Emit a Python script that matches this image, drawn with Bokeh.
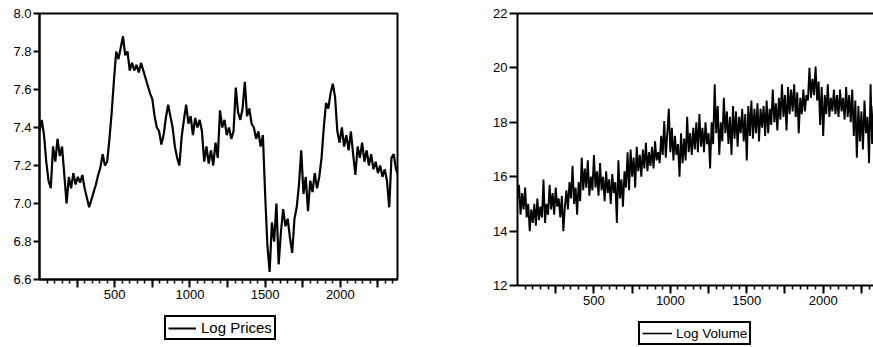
import numpy as np
from bokeh.plotting import figure
from bokeh.models import (Legend, LegendItem, FixedTicker, LinearAxis,
                          PrintfTickFormatter, Range1d)
from bokeh.layouts import row, column
from bokeh.embed import file_html
from bokeh.resources import INLINE

# ---------------- data ----------------
price_step = 15
log_prices = [
    7.38, 7.44, 7.36, 7.22, 7.12, 7.08, 7.30, 7.22, 7.34, 7.25,
    7.30, 7.15, 7.00, 7.14, 7.08, 7.16, 7.10, 7.14, 7.11, 7.15,
    7.08, 7.03, 6.98, 7.02, 7.06, 7.10, 7.15, 7.19, 7.26, 7.20,
    7.22, 7.34, 7.48, 7.65, 7.80, 7.76, 7.82, 7.88, 7.78, 7.80,
    7.70, 7.74, 7.70, 7.73, 7.69, 7.74, 7.70, 7.66, 7.62, 7.58,
    7.55, 7.46, 7.40, 7.38, 7.31, 7.36, 7.45, 7.52, 7.46, 7.40,
    7.30, 7.24, 7.20, 7.35, 7.44, 7.52, 7.42, 7.46, 7.36, 7.45,
    7.40, 7.44, 7.38, 7.22, 7.30, 7.21, 7.28, 7.20, 7.32, 7.24,
    7.49, 7.40, 7.44, 7.36, 7.40, 7.34, 7.38, 7.61, 7.48, 7.44,
    7.50, 7.64, 7.46, 7.50, 7.42, 7.40, 7.34, 7.38, 7.30, 7.36,
    7.05, 6.78, 6.64, 6.90, 6.80, 7.00, 6.68, 6.85, 6.97, 6.88,
    6.92, 6.82, 6.74, 6.92, 6.98, 7.10, 7.28, 7.05, 7.14, 6.96,
    7.12, 7.06, 7.16, 7.08, 7.14, 7.24, 7.40, 7.53, 7.50, 7.58,
    7.63, 7.56, 7.38, 7.32, 7.40, 7.30, 7.36, 7.28, 7.38, 7.26,
    7.15, 7.30, 7.24, 7.32, 7.22, 7.28, 7.20, 7.26, 7.18, 7.22,
    7.16, 7.20, 7.14, 7.18, 7.12, 6.98, 7.24, 7.26, 7.18, 7.15,
]

volume_step = 10
log_volume = [
    15.2, 15.7, 14.6, 15.4, 14.8, 15.6, 14.5, 15.0, 14.0, 14.8,
    14.3, 15.0, 14.2, 15.2, 14.4, 14.9, 14.5, 15.9, 14.3, 15.0,
    14.6, 15.7, 14.8, 15.4, 14.6, 15.6, 14.9, 15.2, 14.5, 15.3,
    14.0, 14.9, 15.5, 14.8, 15.8, 15.2, 16.4, 15.0, 15.6, 14.6,
    15.8, 15.1, 16.7, 15.5, 16.3, 15.6, 16.6, 15.3, 16.0, 15.5,
    16.8, 15.6, 16.2, 15.3, 16.5, 15.5, 16.0, 15.1, 16.2, 15.4,
    15.9, 15.0, 16.1, 15.4, 15.8, 14.3, 16.6, 15.2, 15.9, 14.9,
    16.2, 15.6, 16.9, 15.5, 17.0, 16.0, 16.7, 15.6, 17.1, 16.2,
    16.8, 16.0, 17.0, 16.3, 17.25, 16.2, 16.9, 16.4, 17.1, 16.3,
    17.3, 16.6, 16.9, 16.5, 17.5, 16.8, 18.05, 16.7, 17.6, 18.5,
    16.9, 17.8, 16.6, 17.5, 16.8, 17.2, 16.0, 17.6, 16.5, 17.4,
    16.6, 18.2, 16.9, 17.6, 16.8, 17.8, 17.0, 18.0, 16.9, 18.3,
    17.1, 17.8, 16.9, 18.0, 17.2, 17.6, 16.3, 18.0, 17.2, 19.4,
    17.6, 18.6, 16.8, 18.0, 17.3, 18.9, 17.6, 18.4, 17.2, 18.2,
    16.8, 18.6, 17.4, 18.4, 17.1, 18.2, 17.6, 18.5, 17.3, 18.3,
    16.6, 18.6, 17.5, 18.8, 17.4, 18.5, 17.6, 18.7, 17.3, 18.5,
    17.8, 18.6, 17.5, 18.8, 17.6, 18.5, 17.9, 19.2, 18.0, 18.7,
    17.7, 18.9, 18.1, 19.4, 18.2, 19.0, 17.7, 19.3, 18.3, 19.2,
    18.4, 19.4, 18.2, 19.1, 17.6, 18.9, 18.3, 19.2, 18.4, 19.0,
    18.8, 20.0, 18.9, 19.6, 19.0, 20.05, 18.8, 19.5, 17.9, 19.3,
    17.5, 19.0, 18.3, 19.4, 18.2, 18.9, 18.4, 19.2, 18.3, 19.0,
    18.2, 19.2, 18.4, 18.9, 18.1, 19.3, 18.2, 19.0, 18.0, 19.2,
    17.5, 18.8, 16.7, 18.6, 17.3, 18.4, 17.0, 18.8, 17.6, 18.2,
    16.5, 19.4, 17.2, 18.6, 17.0, 18.8, 17.4, 18.5,
]

price_yticks = [6.6, 6.8, 7.0, 7.2, 7.4, 7.6, 7.8, 8.0]
volume_yticks = [12, 14, 16, 18, 20, 22]
x_major = [250, 500, 750, 1000, 1250, 1500, 1750, 2000, 2250]
x_labelled = [500, 1000, 1500, 2000]
x_minor = list(range(50, 2400, 50))

price_x = np.arange(len(log_prices)) * price_step
volume_x = np.arange(len(log_volume)) * volume_step

FONT = "Liberation Sans"


def style_common(p, yticks, fmt, ytick_out):
    p.xgrid.grid_line_color = None
    p.ygrid.grid_line_color = None
    p.background_fill_color = "white"
    p.border_fill_color = "white"
    xa = p.xaxis[0]
    xa.ticker = FixedTicker(ticks=x_major, minor_ticks=x_minor)
    xa.major_label_overrides = {t: "" for t in x_major if t not in x_labelled}
    xa.axis_line_width = 2
    xa.axis_line_color = "black"
    xa.major_tick_out = 8
    xa.major_tick_in = 0
    xa.minor_tick_out = 4
    xa.minor_tick_in = 0
    xa.major_tick_line_width = 2
    xa.minor_tick_line_width = 1.5
    xa.major_tick_line_color = "black"
    xa.minor_tick_line_color = "black"
    xa.major_label_standoff = 2
    xa.major_label_text_font = FONT
    xa.major_label_text_font_size = "13px"
    xa.major_label_text_color = "black"
    ya = p.yaxis[0]
    ya.ticker = FixedTicker(ticks=yticks)
    ya.formatter = PrintfTickFormatter(format=fmt)
    ya.axis_line_width = 2
    ya.axis_line_color = "black"
    ya.major_tick_out = ytick_out
    ya.major_tick_in = 0
    ya.minor_tick_line_color = None
    ya.major_tick_line_width = 2
    ya.major_tick_line_color = "black"
    ya.major_label_standoff = 2
    ya.major_label_text_font = FONT
    ya.major_label_text_font_size = "13px"
    ya.major_label_text_color = "black"


def legend_strip(width, height, label, loc, font_size, glyph_w, standoff, lw):
    f = figure(width=width, height=height, output_backend="svg",
               toolbar_location=None, x_axis_location=None,
               y_axis_location=None, min_border=0,
               x_range=Range1d(0, 1), y_range=Range1d(0, 1))
    f.outline_line_color = None
    f.xgrid.grid_line_color = None
    f.ygrid.grid_line_color = None
    f.background_fill_color = "white"
    f.border_fill_color = "white"
    # key line for the legend only (no visible data)
    key = f.line(x=[np.nan, np.nan], y=[np.nan, np.nan],
                 line_color="black", line_width=lw)
    leg = Legend(items=[LegendItem(label=label, renderers=[key])],
                 location=loc, orientation="vertical",
                 border_line_color="black", border_line_width=2,
                 border_line_alpha=1.0,
                 background_fill_color="white", background_fill_alpha=1,
                 padding=2, margin=0, spacing=0,
                 glyph_width=glyph_w, glyph_height=16,
                 label_standoff=standoff, label_height=16,
                 label_text_font=FONT, label_text_font_size=font_size,
                 label_text_color="black")
    f.add_layout(leg)
    return f


# ---------------- left panel: Log Prices ----------------
p1 = figure(width=448, height=312, x_range=Range1d(0, 2380),
            y_range=Range1d(6.6, 8.0), output_backend="svg",
            toolbar_location=None, min_border_left=39, min_border_right=51,
            min_border_top=13, min_border_bottom=33)
p1.outline_line_color = "black"
p1.outline_line_width = 2
style_common(p1, price_yticks, "%.1f", 6)
p1.line(price_x, log_prices, line_color="black", line_width=2.2)
leg1 = legend_strip(448, 35, "Log Prices", (125, 7), "15px", 28, 5, 2)

# ---------------- right panel: Log Volume ----------------
p2 = figure(width=425, height=314, x_range=Range1d(0, 2329),
            y_range=Range1d(12, 22), output_backend="svg",
            toolbar_location=None, min_border_left=69, min_border_right=0,
            min_border_top=13, min_border_bottom=29)
p2.outline_line_color = None
style_common(p2, volume_yticks, "%d", 8)
top_axis = LinearAxis(ticker=FixedTicker(ticks=[]), axis_line_width=2,
                      axis_line_color="black", major_tick_out=0,
                      major_tick_in=0, minor_tick_out=0, minor_tick_in=0,
                      major_label_standoff=0,
                      major_label_text_font_size="0px")
p2.add_layout(top_axis, "above")
p2.line(volume_x, log_volume, line_color="black", line_width=1.9)
leg2 = legend_strip(425, 33, "Log Volume", (121, 2), "13.5px", 30, 4, 1.6)

layout = row(column(p1, leg1, spacing=0), column(p2, leg2, spacing=0),
             spacing=0)
open("out.html", "w").write(file_html(layout, INLINE))
